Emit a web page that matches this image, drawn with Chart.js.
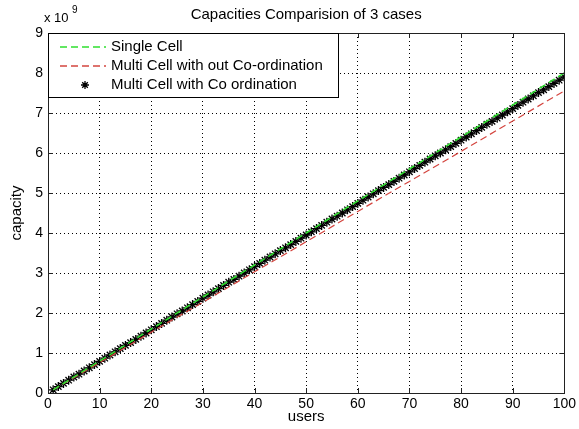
<!DOCTYPE html>
<html>
<head>
<meta charset="utf-8">
<script src="https://cdn.jsdelivr.net/npm/chart.js@4/dist/chart.umd.min.js"></script>
<style>
  html, body { margin: 0; padding: 0; background: #fff; }
  canvas { display: block; }
</style>
</head>
<body>
<canvas id="capChart" width="579" height="429"></canvas>
<script>
// values are in units of 10^9
const usersCoord = [];
for (let u = 1; u <= 100; u++) usersCoord.push(u);
const capCoord = [
  0.08, 0.16, 0.24, 0.32, 0.40, 0.47, 0.55, 0.63, 0.71, 0.79,
  0.87, 0.95, 1.03, 1.11, 1.19, 1.26, 1.34, 1.42, 1.50, 1.58,
  1.66, 1.74, 1.82, 1.90, 1.98, 2.05, 2.13, 2.21, 2.29, 2.37,
  2.45, 2.53, 2.61, 2.69, 2.77, 2.84, 2.92, 3.00, 3.08, 3.16,
  3.24, 3.32, 3.40, 3.48, 3.56, 3.63, 3.71, 3.79, 3.87, 3.95,
  4.03, 4.11, 4.19, 4.27, 4.35, 4.42, 4.50, 4.58, 4.66, 4.74,
  4.82, 4.90, 4.98, 5.06, 5.14, 5.21, 5.29, 5.37, 5.45, 5.53,
  5.61, 5.69, 5.77, 5.85, 5.93, 6.00, 6.08, 6.16, 6.24, 6.32,
  6.40, 6.48, 6.56, 6.64, 6.72, 6.79, 6.87, 6.95, 7.03, 7.11,
  7.19, 7.27, 7.35, 7.43, 7.51, 7.58, 7.66, 7.74, 7.82, 7.90,
];

const usersLine = [1, 10, 20, 30, 40, 50, 60, 70, 80, 90, 100];
const capSingle = [0.08, 0.80, 1.60, 2.40, 3.20, 4.00, 4.80, 5.60, 6.40, 7.20, 8.00];
const capNoCoord = [0.08, 0.76, 1.52, 2.27, 3.03, 3.78, 4.54, 5.29, 6.04, 6.80, 7.55];

const seriesNames = [
  "Single Cell",
  "Multi Cell with out Co-ordination",
  "Multi Cell with Co ordination",
];

const xTicks = [0, 10, 20, 30, 40, 50, 60, 70, 80, 90, 100];
const yTicks = [0, 1, 2, 3, 4, 5, 6, 7, 8, 9];

const FONT = "'Liberation Sans', Arial, sans-serif";
const GREEN = "#2fe02f";
const RED = "#d4453f";

function toPoints(xs, ys) {
  return xs.map((x, i) => ({ x: x, y: ys[i] }));
}

function drawStar(ctx, x, y, r) {
  ctx.beginPath();
  ctx.moveTo(x - r, y); ctx.lineTo(x + r, y);
  ctx.moveTo(x, y - r); ctx.lineTo(x, y + r);
  const d = r * 0.7;
  ctx.moveTo(x - d, y - d); ctx.lineTo(x + d, y + d);
  ctx.moveTo(x - d, y + d); ctx.lineTo(x + d, y - d);
  ctx.stroke();
}

// box, inner ticks, texts and legend, matlab style
const decorPlugin = {
  id: "decor",
  afterDraw(chart) {
    const ctx = chart.ctx;
    const a = chart.chartArea;
    const xs = chart.scales.x;
    const ys = chart.scales.y;
    ctx.save();

    ctx.strokeStyle = "#222";
    ctx.lineWidth = 1;
    ctx.setLineDash([]);
    ctx.beginPath();
    xTicks.forEach((t) => {
      const px = Math.round(xs.getPixelForValue(t)) + 0.5;
      ctx.moveTo(px, a.bottom); ctx.lineTo(px, a.bottom - 5);
      ctx.moveTo(px, a.top); ctx.lineTo(px, a.top + 5);
    });
    yTicks.forEach((t) => {
      const py = Math.round(ys.getPixelForValue(t)) + 0.5;
      ctx.moveTo(a.left, py); ctx.lineTo(a.left + 5, py);
      ctx.moveTo(a.right, py); ctx.lineTo(a.right - 5, py);
    });
    ctx.stroke();
    ctx.strokeRect(Math.round(a.left) + 0.5, Math.round(a.top) + 0.5,
      Math.round(a.right - a.left), Math.round(a.bottom - a.top));

    // texts
    ctx.fillStyle = "#000";
    ctx.font = "15px " + FONT;
    ctx.textAlign = "center";
    ctx.textBaseline = "middle";
    ctx.fillText("Capacities Comparision of 3 cases", (a.left + a.right) / 2, 15);
    ctx.fillText("users", (a.left + a.right) / 2, 417);
    ctx.save();
    ctx.translate(17, (a.top + a.bottom) / 2);
    ctx.rotate(-Math.PI / 2);
    ctx.fillText("capacity", 0, 0);
    ctx.restore();
    ctx.textAlign = "left";
    ctx.font = "13px " + FONT;
    ctx.fillText("x 10", 44, 18);
    ctx.font = "10px " + FONT;
    ctx.fillText("9", 72, 10);

    // legend
    const lx = 48, ly = 33, lw = 290, lh = 64;
    ctx.fillStyle = "#fff";
    ctx.fillRect(lx, ly, lw, lh);
    ctx.strokeStyle = "#000";
    ctx.strokeRect(lx + 0.5, ly + 0.5, lw, lh);
    const rows = [47, 66, 85];
    ctx.lineWidth = 1.5;
    ctx.strokeStyle = GREEN;
    ctx.setLineDash([7, 4]);
    ctx.beginPath(); ctx.moveTo(60, rows[0]); ctx.lineTo(106, rows[0]); ctx.stroke();
    ctx.strokeStyle = RED;
    ctx.beginPath(); ctx.moveTo(60, rows[1]); ctx.lineTo(106, rows[1]); ctx.stroke();
    ctx.setLineDash([]);
    ctx.lineWidth = 1.3;
    ctx.strokeStyle = "#000";
    drawStar(ctx, 85, rows[2], 4);
    ctx.fillStyle = "#000";
    ctx.font = "15px " + FONT;
    ctx.textAlign = "left";
    seriesNames.forEach((name, i) => ctx.fillText(name, 111, rows[i]));

    ctx.restore();
  },
};

document.addEventListener("DOMContentLoaded", () => {
  const canvas = document.getElementById("capChart");
  Chart.defaults.font.family = FONT;
  Chart.defaults.font.size = 14;
  Chart.defaults.color = "#000";

  new Chart(canvas, {
    type: "line",
    data: {
      datasets: [
        {
          label: seriesNames[0],
          data: toPoints(usersLine, capSingle),
          borderColor: GREEN,
          borderWidth: 1.5,
          borderDash: [7, 4],
          pointRadius: 0,
          tension: 0,
          fill: false,
        },
        {
          label: seriesNames[1],
          data: toPoints(usersLine, capNoCoord),
          borderColor: RED,
          borderWidth: 1.2,
          borderDash: [7, 4],
          pointRadius: 0,
          tension: 0,
          fill: false,
        },
        {
          label: seriesNames[2],
          data: toPoints(usersCoord, capCoord),
          showLine: false,
          pointStyle: "star",
          pointRadius: 4.5,
          pointBorderWidth: 1.3,
          pointBorderColor: "#000",
          pointBackgroundColor: "#000",
        },
      ],
    },
    options: {
      responsive: false,
      animation: false,
      events: [],
      layout: { padding: { top: 33, right: 12, left: 0, bottom: 0 } },
      scales: {
        x: {
          type: "linear",
          min: 0,
          max: 100,
          afterFit: (s) => { s.height = 36; },
          afterBuildTicks: (s) => { s.ticks = xTicks.map((v) => ({ value: v })); },
          ticks: { padding: 3, maxRotation: 0, font: { size: 14 } },
          grid: { color: "#000", drawTicks: false },
          border: { display: false, dash: [1, 3] },
        },
        y: {
          type: "linear",
          min: 0,
          max: 9,
          afterFit: (s) => { s.width = 48; },
          afterBuildTicks: (s) => { s.ticks = yTicks.map((v) => ({ value: v })); },
          ticks: { padding: 5, font: { size: 14 } },
          grid: { color: "#000", drawTicks: false },
          border: { display: false, dash: [1, 3] },
        },
      },
      plugins: {
        legend: { display: false },
        title: { display: false },
        tooltip: { enabled: false },
      },
    },
    plugins: [decorPlugin],
  });
});
</script>
</body>
</html>
